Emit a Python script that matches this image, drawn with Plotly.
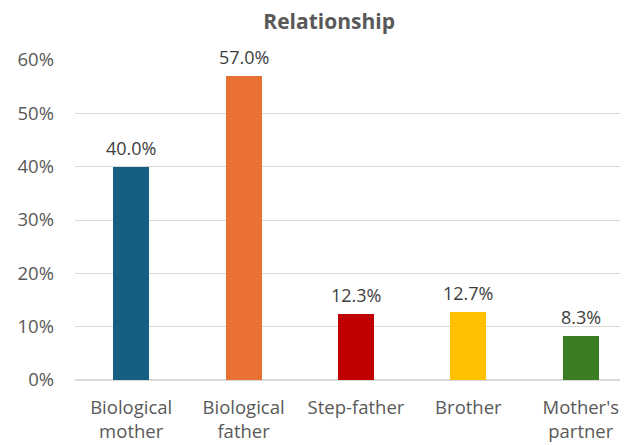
import plotly.graph_objects as go

categories = ["Biological<br>mother", "Biological<br>father", "Step-father", "Brother", "Mother's<br>partner"]
values = [0.400, 0.570, 0.123, 0.127, 0.083]
labels = ["40.0%", "57.0%", "12.3%", "12.7%", "8.3%"]
colors = ["#156082", "#E97132", "#C00000", "#FFC000", "#3B7D23"]
y_ticks = [0, 0.1, 0.2, 0.3, 0.4, 0.5, 0.6]
y_tick_labels = ["0%", "10%", "20%", "30%", "40%", "50%", "60%"]

FONT = "Open Sans"
xs = list(range(len(categories)))

fig = go.Figure(go.Bar(
    x=xs,
    y=values,
    cliponaxis=False,
    marker=dict(color=colors, line=dict(width=0)),
    width=0.32,
))

for xi, v, lab in zip(xs, values, labels):
    fig.add_annotation(x=xi, y=v, text=lab, showarrow=False, xanchor="center", yanchor="bottom",
                       yshift=5, font=dict(family=FONT, size=18, color="#404040"))

fig.update_layout(
    width=620, height=437,
    margin=dict(l=67, r=0, t=51.5, b=65, autoexpand=False),
    paper_bgcolor="white", plot_bgcolor="white",
    title=dict(text="<b>Relationship</b>", x=0.518, xanchor="center", y=0.968, yanchor="middle",
               font=dict(family=FONT, size=21, color="#595959")),
    showlegend=False,
    bargap=0,
)
fig.update_xaxes(
    tickmode="array", tickvals=xs, ticktext=categories,
    range=[-0.5, 4.42], showgrid=False, zeroline=False, showline=False, ticks="",
    tickfont=dict(family=FONT, size=18.5, color="#595959"),
    ticklabelstandoff=14, automargin=False,
)
fig.update_yaxes(
    range=[0, 0.6], tickmode="array", tickvals=y_ticks, ticktext=y_tick_labels,
    showgrid=True, gridcolor="#D9D9D9", gridwidth=1, zeroline=True, zerolinecolor="#D9D9D9",
    showline=False, ticks="",
    tickfont=dict(family=FONT, size=18.5, color="#595959"),
    ticklabelstandoff=20, automargin=False,
)

fig.write_html("out.html")
